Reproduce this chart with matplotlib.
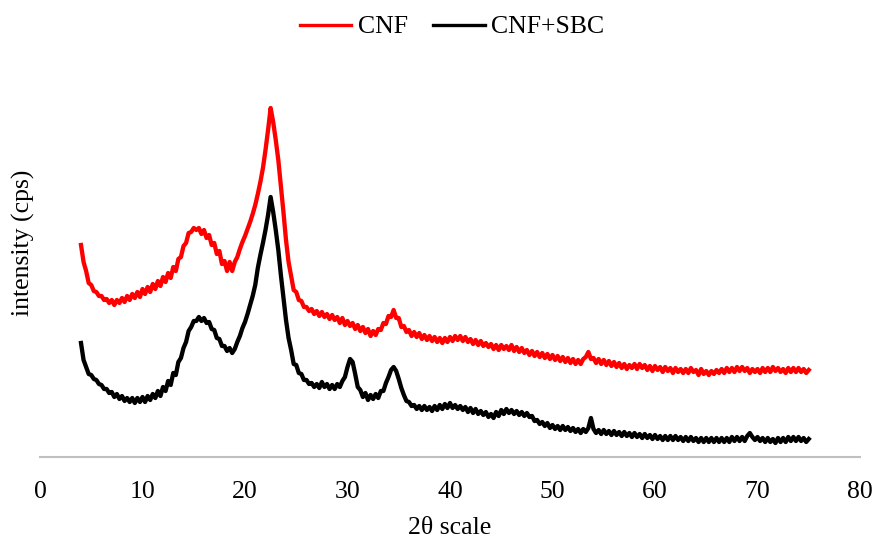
import numpy as np
import matplotlib
matplotlib.use("Agg")
import matplotlib.pyplot as plt

plt.rcParams['font.family'] = ['Liberation Serif', 'DejaVu Serif']

# 2-theta sampling grid (degrees), values below at each step
two_theta = np.arange(4.0, 75.001, 0.25)

# CNF intensity (arbitrary cps scale)
cnf = [
    212, 195, 186, 174, 172, 166, 165, 161, 161, 157, 158, 154, 157, 152, 157, 154, 159, 155, 161, 157,
    163, 159, 165, 160, 168, 163, 170, 165, 173, 168, 176, 171, 180, 175, 184, 179, 190, 186, 198, 200,
    211, 214, 224, 225, 229, 227, 229, 223, 227, 219, 222, 212, 214, 203, 206, 193, 196, 186, 195, 186,
    195, 200, 208, 215, 221, 228, 235, 243, 252, 263, 275, 289, 307, 327, 349, 335, 317, 297, 271, 245,
    217, 195, 181, 167, 165, 157, 156, 150, 150, 146, 148, 143, 146, 141, 145, 140, 143, 138, 142, 137,
    140, 134, 139, 132, 136, 131, 134, 128, 132, 126, 130, 124, 128, 121, 126, 122, 128, 127, 134, 133,
    141, 140, 147, 139, 139, 130, 131, 125, 127, 121, 125, 120, 124, 118, 122, 117, 121, 116, 120, 115,
    119, 114, 119, 115, 120, 116, 121, 117, 121, 116, 120, 115, 118, 113, 117, 112, 116, 111, 114, 110,
    113, 108, 112, 107, 112, 108, 111, 107, 112, 106, 110, 105, 109, 104, 107, 102, 106, 101, 105, 100,
    104, 99, 103, 98, 102, 97, 101, 96, 100, 95, 99, 94, 98, 93, 97, 93, 98, 100, 105, 98,
    99, 94, 98, 93, 97, 92, 96, 91, 95, 90, 94, 89, 93, 88, 92, 89, 93, 88, 93, 89,
    92, 87, 91, 86, 91, 87, 90, 85, 90, 86, 89, 84, 89, 85, 88, 84, 88, 84, 89, 85,
    87, 82, 88, 83, 86, 82, 86, 83, 87, 84, 88, 84, 89, 85, 89, 85, 90, 86, 90, 86,
    89, 84, 88, 85, 88, 84, 89, 85, 89, 85, 90, 86, 89, 85, 88, 84, 89, 85, 89, 85,
    89, 85, 88, 84, 87,
]

# CNF+SBC intensity
cnf_sbc = [
    114, 97, 90, 83, 82, 78, 77, 73, 72, 68, 68, 64, 65, 60, 63, 58, 61, 56, 59, 55,
    59, 54, 59, 55, 60, 55, 61, 57, 63, 59, 66, 61, 70, 66, 76, 72, 84, 82, 95, 99,
    109, 115, 126, 130, 136, 136, 140, 136, 139, 134, 135, 128, 127, 119, 118, 111, 111, 106, 109, 104,
    108, 115, 121, 129, 135, 143, 152, 161, 172, 189, 202, 214, 227, 242, 260, 245, 227, 207, 182, 159,
    137, 119, 107, 93, 92, 84, 83, 77, 77, 73, 74, 70, 73, 69, 75, 70, 73, 68, 72, 68,
    73, 70, 76, 80, 90, 98, 95, 83, 70, 67, 60, 64, 57, 62, 58, 63, 59, 66, 66, 74,
    80, 87, 90, 86, 78, 69, 62, 56, 55, 51, 52, 48, 51, 47, 51, 47, 50, 46, 51, 47,
    52, 48, 53, 49, 54, 49, 52, 48, 51, 47, 50, 45, 49, 44, 48, 43, 46, 42, 45, 40,
    43, 39, 45, 41, 47, 43, 48, 44, 47, 43, 46, 42, 45, 41, 44, 40, 41, 36, 37, 33,
    35, 31, 34, 29, 32, 28, 31, 27, 31, 27, 30, 26, 29, 25, 28, 24, 28, 25, 29, 39,
    28, 24, 27, 23, 27, 23, 26, 22, 26, 22, 25, 21, 25, 21, 24, 20, 24, 20, 23, 19,
    23, 19, 22, 18, 22, 18, 21, 17, 21, 17, 21, 17, 21, 17, 20, 16, 20, 16, 20, 16,
    19, 15, 19, 15, 19, 15, 19, 15, 19, 15, 19, 15, 19, 15, 20, 16, 20, 16, 20, 16,
    21, 24, 20, 17, 20, 16, 19, 15, 19, 15, 18, 14, 19, 15, 19, 15, 20, 16, 20, 16,
    20, 16, 19, 15, 18,
]

fig = plt.figure(figsize=(8.77, 5.4), dpi=100)
ax = fig.add_axes([40 / 877, 83 / 540, 820 / 877, 380 / 540])

ax.plot(two_theta, cnf, color="#ff0000", lw=3.1, label="CNF")
ax.plot(two_theta, cnf_sbc, color="#000000", lw=3.1, label="CNF+SBC")

ax.set_xlim(0, 80)
ax.set_ylim(0, 380)
ax.set_xticks(range(0, 81, 10))
ax.set_yticks([])
for s in ("left", "top", "right"):
    ax.spines[s].set_visible(False)
ax.spines["bottom"].set_color("#c0c0c0")
ax.spines["bottom"].set_linewidth(1.5)
ax.tick_params(axis="x", length=0, pad=17, labelsize=18.5)

ax.set_xlabel("2θ scale", fontsize=18.5, labelpad=10)
ax.set_ylabel("intensity (cps)", fontsize=18.5)
ax.yaxis.set_label_coords(-0.006, (457 - 243) / 380)

leg = fig.legend(loc="center", bbox_to_anchor=(452 / 877, 1 - 27 / 540), ncol=2,
                 frameon=False, fontsize=18.5, handlelength=2.0, handletextpad=0.25,
                 columnspacing=1.0)
for ln in leg.get_lines():
    ln.set_linewidth(2.4)

fig.savefig("out.png", dpi=100)
